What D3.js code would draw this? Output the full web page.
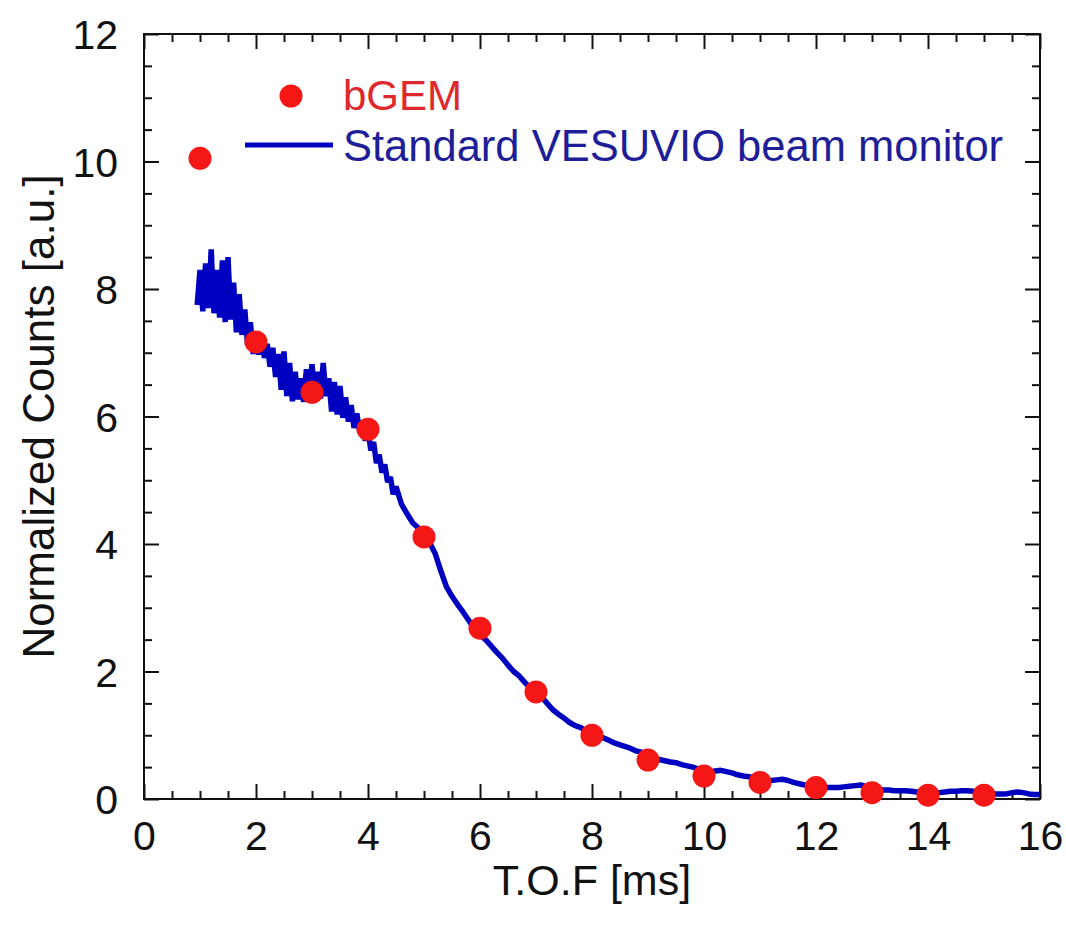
<!DOCTYPE html>
<html>
<head>
<meta charset="utf-8">
<script src="https://cdn.jsdelivr.net/npm/d3@7/dist/d3.min.js"></script>
<style>
  html, body { margin: 0; padding: 0; background: #ffffff; }
  svg { display: block; }
  text { font-family: "Liberation Sans", Arial, Helvetica, sans-serif; }
</style>
</head>
<body>
<svg id="chart" width="1066" height="932"></svg>
<script>
// bGEM detector: normalized counts at integer time-of-flight values (ms)
const bgemTof    = [1, 2, 3, 4, 5, 6, 7, 8, 9, 10, 11, 12, 13, 14, 15];
const bgemCounts = [10.05, 7.17, 6.38, 5.80, 4.11, 2.68, 1.68, 1.00, 0.61, 0.36, 0.26, 0.18, 0.10, 0.06, 0.06];

// Standard VESUVIO beam monitor trace (noisy at short TOF)
const monitorTof = [
  0.95, 1.00, 1.05, 1.10, 1.15, 1.20, 1.25, 1.30, 1.35, 1.40, 1.45, 1.50, 1.55, 1.60, 1.65, 1.70, 1.75, 1.80, 1.85, 1.90,
  1.95, 2.00, 2.05, 2.10, 2.15, 2.20, 2.25, 2.30, 2.35, 2.40, 2.45, 2.50, 2.55, 2.60, 2.65, 2.70, 2.75, 2.80, 2.85, 2.90,
  2.95, 3.00, 3.05, 3.10, 3.15, 3.20, 3.25, 3.30, 3.35, 3.40, 3.45, 3.50, 3.55, 3.60, 3.65, 3.70, 3.75, 3.80, 3.85, 3.90,
  3.95, 4.00, 4.05, 4.10, 4.15, 4.20, 4.25, 4.30, 4.35, 4.40, 4.45, 4.50,
  4.6, 4.7, 4.8, 4.9, 5.0, 5.1, 5.2, 5.3, 5.4, 5.5, 5.6, 5.7, 5.8, 5.9, 6.0, 6.1, 6.2, 6.3, 6.4, 6.5,
  6.6, 6.7, 6.8, 6.9, 7.0, 7.1, 7.2, 7.3, 7.4, 7.5, 7.6, 7.7, 7.8, 7.9, 8.0, 8.1, 8.2, 8.3, 8.4, 8.5,
  8.6, 8.7, 8.8, 8.9, 9.0, 9.1, 9.2, 9.3, 9.4, 9.5, 9.6, 9.7, 9.8, 9.9, 10.0, 10.1, 10.2, 10.3, 10.4, 10.5,
  10.6, 10.7, 10.8, 10.9, 11.0, 11.1, 11.2, 11.3, 11.4, 11.5, 11.6, 11.7, 11.8, 11.9, 12.0, 12.1, 12.2, 12.3, 12.4, 12.5,
  12.6, 12.7, 12.8, 12.9, 13.0, 13.1, 13.2, 13.3, 13.4, 13.5, 13.6, 13.7, 13.8, 13.9, 14.0, 14.1, 14.2, 14.3, 14.4, 14.5,
  14.6, 14.7, 14.8, 14.9, 15.0, 15.1, 15.2, 15.3, 15.4, 15.5, 15.6, 15.7, 15.8, 15.9, 16.0
];
const monitorCounts = [
  7.75, 8.30, 7.65, 8.40, 7.70, 8.62, 7.62, 8.30, 7.55, 8.45, 7.48, 8.50, 7.52, 8.10, 7.32, 7.92, 7.28, 7.68, 7.12, 7.48,
  6.98, 7.33, 6.97, 7.28, 6.92, 7.14, 6.78, 7.08, 6.62, 6.98, 6.42, 7.02, 6.32, 6.84, 6.24, 6.70, 6.27, 6.60, 6.23, 6.74,
  6.32, 6.82, 6.32, 6.70, 6.28, 6.84, 6.32, 6.60, 6.08, 6.54, 6.03, 6.48, 5.98, 6.30, 5.92, 6.18, 5.82, 6.05, 5.77, 5.94,
  5.62, 5.80, 5.47, 5.60, 5.27, 5.40, 5.12, 5.25, 4.97, 5.05, 4.78, 4.90, 4.62,
  4.47, 4.33, 4.25, 4.15, 4.02, 3.85, 3.58, 3.33, 3.18, 3.05, 2.93, 2.80, 2.67, 2.57, 2.50, 2.40, 2.30, 2.21, 2.10, 2.00,
  1.93, 1.83, 1.74, 1.68, 1.60, 1.50, 1.40, 1.33, 1.27, 1.20, 1.15, 1.12, 1.06, 1.02, 0.99, 0.96, 0.92, 0.88, 0.85, 0.82,
  0.79, 0.75, 0.73, 0.68, 0.64, 0.62, 0.60, 0.58, 0.57, 0.54, 0.52, 0.50, 0.47, 0.45, 0.42, 0.44, 0.45, 0.43, 0.41, 0.38,
  0.36, 0.35, 0.33, 0.32, 0.30, 0.29, 0.30, 0.31, 0.29, 0.26, 0.24, 0.22, 0.21, 0.20, 0.19, 0.18, 0.18, 0.18, 0.19, 0.20,
  0.21, 0.22, 0.19, 0.17, 0.15, 0.14, 0.14, 0.13, 0.13, 0.13, 0.12, 0.11, 0.10, 0.10, 0.10, 0.10, 0.11, 0.12, 0.12, 0.13,
  0.13, 0.12, 0.11, 0.10, 0.09, 0.08, 0.08, 0.08, 0.10, 0.11, 0.10, 0.08, 0.07, 0.07, 0.06
];

// Axis ticks
const xMajorTicks = [0, 2, 4, 6, 8, 10, 12, 14, 16];
const xTickLabels = ["0", "2", "4", "6", "8", "10", "12", "14", "16"];
const xMinorTicks = [0.5, 1, 1.5, 2.5, 3, 3.5, 4.5, 5, 5.5, 6.5, 7, 7.5, 8.5, 9, 9.5, 10.5, 11, 11.5, 12.5, 13, 13.5, 14.5, 15, 15.5];
const yMajorTicks = [0, 2, 4, 6, 8, 10, 12];
const yTickLabels = ["0", "2", "4", "6", "8", "10", "12"];
const yMinorTicks = [0.5, 1, 1.5, 2.5, 3, 3.5, 4.5, 5, 5.5, 6.5, 7, 7.5, 8.5, 9, 9.5, 10.5, 11, 11.5];

const seriesNames = ["bGEM", "Standard VESUVIO beam monitor"];
const xTitle = "T.O.F [ms]";
const yTitle = "Normalized Counts [a.u.]";

const RED = "#f51616";
const BLUE = "#0000c0";

const svg = d3.select("#chart");
const plotLeft = 144, plotRight = 1040, plotTop = 34, plotBottom = 799;

const x = d3.scaleLinear().domain([0, 16]).range([plotLeft, plotRight]);
const y = d3.scaleLinear().domain([0, 12]).range([plotBottom, plotTop]);

const MAJOR = 15, MINOR = 8;

function styleAxis(g) {
  g.select(".domain").remove();
  g.selectAll(".tick line").attr("stroke", "#111").attr("stroke-width", 2);
}

// bottom axis: major ticks with labels, minor ticks without
svg.append("g").attr("transform", `translate(0,${plotBottom})`)
  .call(d3.axisBottom(x).tickValues(xMajorTicks).tickSize(-MAJOR).tickSizeOuter(0)
    .tickFormat((d, i) => xTickLabels[i]))
  .call(styleAxis)
  .call(g => g.selectAll(".tick text")
    .attr("y", 51).attr("dy", 0)
    .attr("font-size", 41).attr("fill", "#111"));
svg.append("g").attr("transform", `translate(0,${plotBottom})`)
  .call(d3.axisBottom(x).tickValues(xMinorTicks).tickSize(-MINOR).tickSizeOuter(0).tickFormat(""))
  .call(styleAxis);

// top axis (mirrored ticks)
svg.append("g").attr("transform", `translate(0,${plotTop})`)
  .call(d3.axisTop(x).tickValues(xMajorTicks).tickSize(-MAJOR).tickSizeOuter(0).tickFormat(""))
  .call(styleAxis);
svg.append("g").attr("transform", `translate(0,${plotTop})`)
  .call(d3.axisTop(x).tickValues(xMinorTicks).tickSize(-MINOR).tickSizeOuter(0).tickFormat(""))
  .call(styleAxis);

// left axis
svg.append("g").attr("transform", `translate(${plotLeft},0)`)
  .call(d3.axisLeft(y).tickValues(yMajorTicks).tickSize(-MAJOR).tickSizeOuter(0)
    .tickFormat((d, i) => yTickLabels[i]))
  .call(styleAxis)
  .call(g => g.selectAll(".tick text")
    .attr("x", -26).attr("dy", "0.36em")
    .attr("font-size", 41).attr("fill", "#111"));
svg.append("g").attr("transform", `translate(${plotLeft},0)`)
  .call(d3.axisLeft(y).tickValues(yMinorTicks).tickSize(-MINOR).tickSizeOuter(0).tickFormat(""))
  .call(styleAxis);

// right axis (mirrored ticks)
svg.append("g").attr("transform", `translate(${plotRight},0)`)
  .call(d3.axisRight(y).tickValues(yMajorTicks).tickSize(-MAJOR).tickSizeOuter(0).tickFormat(""))
  .call(styleAxis);
svg.append("g").attr("transform", `translate(${plotRight},0)`)
  .call(d3.axisRight(y).tickValues(yMinorTicks).tickSize(-MINOR).tickSizeOuter(0).tickFormat(""))
  .call(styleAxis);

// plot frame
svg.append("rect")
  .attr("x", plotLeft).attr("y", plotTop)
  .attr("width", plotRight - plotLeft).attr("height", plotBottom - plotTop)
  .attr("fill", "none").attr("stroke", "#111").attr("stroke-width", 2);

// beam monitor trace
const monitor = monitorTof.map((t, i) => [t, monitorCounts[i]]);
svg.append("path")
  .datum(monitor)
  .attr("fill", "none")
  .attr("stroke", BLUE)
  .attr("stroke-width", 5.5)
  .attr("stroke-linejoin", "bevel")
  .attr("d", d3.line().x(d => x(d[0])).y(d => y(d[1])));

// bGEM points
svg.append("g").selectAll("circle")
  .data(bgemTof.map((t, i) => [t, bgemCounts[i]]))
  .join("circle")
  .attr("cx", d => x(d[0]))
  .attr("cy", d => y(d[1]))
  .attr("r", 11.5)
  .attr("fill", RED);

// axis titles
svg.append("text")
  .attr("x", (plotLeft + plotRight) / 2).attr("y", 895)
  .attr("text-anchor", "middle")
  .attr("font-size", 43).attr("fill", "#111")
  .text(xTitle);
svg.append("text")
  .attr("transform", `translate(54,${(plotTop + plotBottom) / 2}) rotate(-90)`)
  .attr("text-anchor", "middle")
  .attr("font-size", 44).attr("fill", "#111")
  .text(yTitle);

// legend
const legend = svg.append("g");
legend.append("circle").attr("cx", 291).attr("cy", 96).attr("r", 11.5).attr("fill", RED);
legend.append("text").attr("x", 343).attr("y", 110)
  .attr("font-size", 42).attr("fill", "#e0282c").text(seriesNames[0]);
legend.append("line").attr("x1", 245).attr("x2", 333).attr("y1", 145).attr("y2", 145)
  .attr("stroke", BLUE).attr("stroke-width", 5);
legend.append("text").attr("x", 343).attr("y", 161)
  .attr("font-size", 43.5).attr("fill", "#1e1e98").text(seriesNames[1]);
</script>
</body>
</html>
